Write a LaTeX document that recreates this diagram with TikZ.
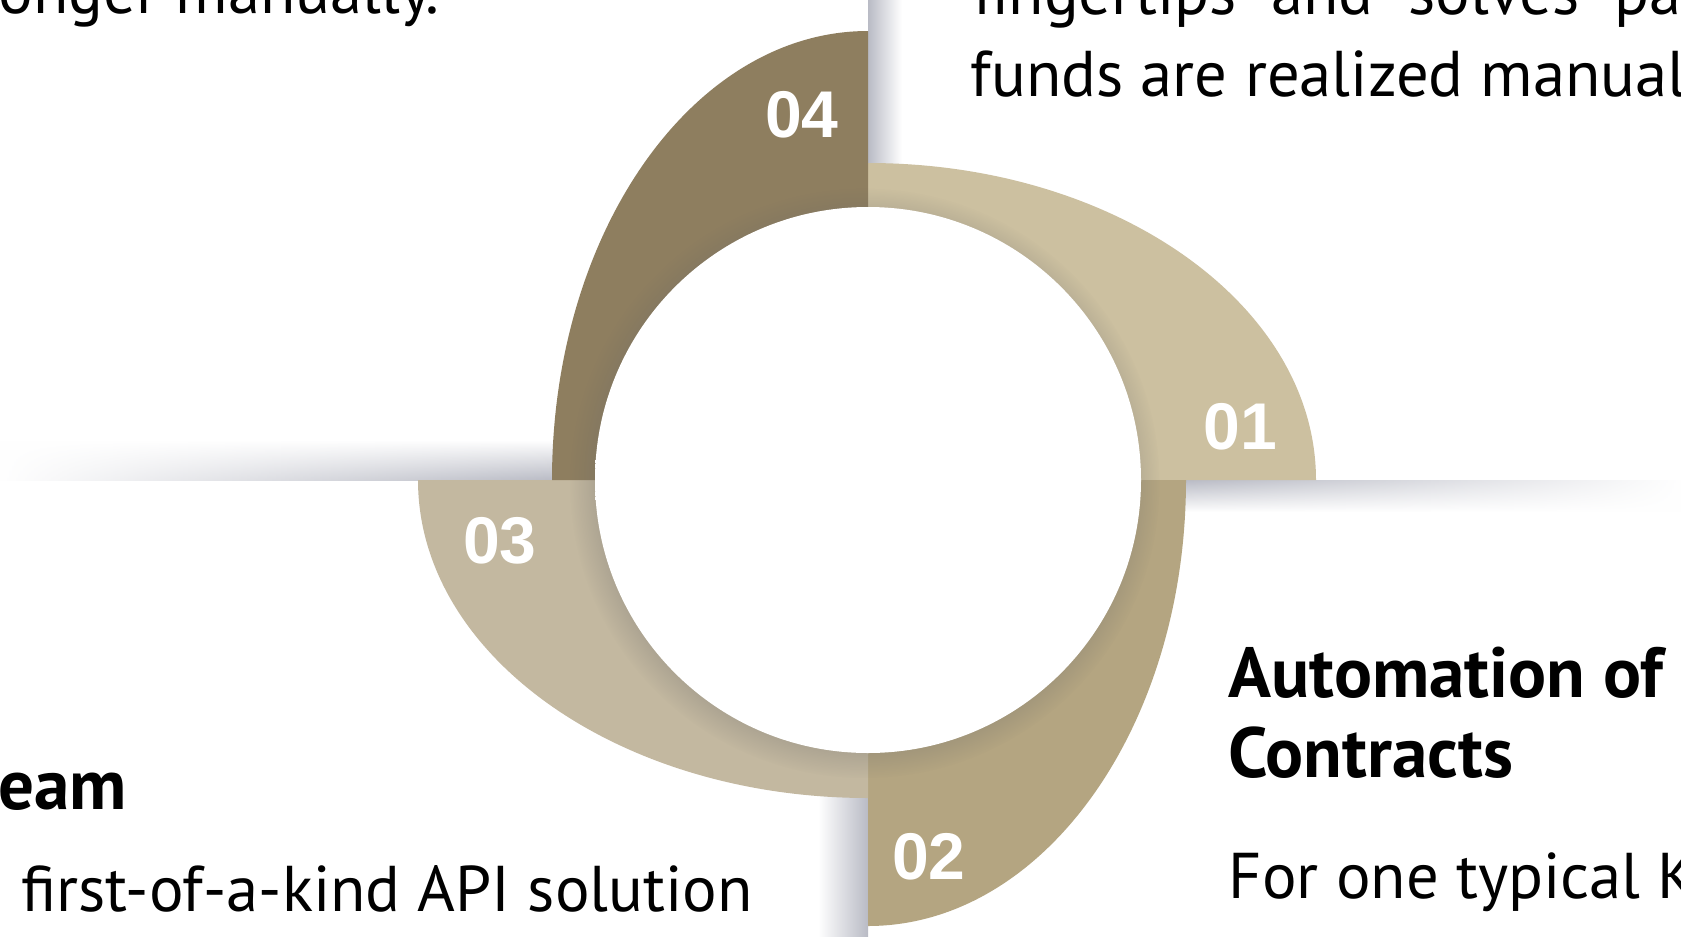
\documentclass[tikz,border=0pt]{standalone}
\usepackage{fontspec}
\setmainfont{PT Sans}
\newfontfamily\numfont{Liberation Sans}
\usetikzlibrary{shadows,fadings}
\definecolor{segone}{HTML}{CCC0A0}
\definecolor{segtwo}{HTML}{B4A581}
\definecolor{segthree}{HTML}{C3B8A0}
\definecolor{segfour}{HTML}{8E7E5F}
\definecolor{bandgray}{HTML}{B9BBC5}
\pgfdeclareradialshading{hubshade}{\pgfpoint{12bp}{12bp}}{%
  color(0bp)=(white); color(34bp)=(white); color(60bp)=(black!9); color(72bp)=(black!14)}
\begin{document}
\begin{tikzpicture}[x=0.1mm,y=0.1mm,
    txt/.style={anchor=base west,inner sep=0pt,font=\fontsize{18.4}{23}\selectfont},
    head/.style={txt,font=\fontsize{20.2}{23}\selectfont\bfseries},
    num/.style={text=white,inner sep=0pt,font=\numfont\bfseries\fontsize{18.8}{18}\selectfont}]
  \useasboundingbox (0,0) rectangle (1681,936);
  \clip (0,0) rectangle (1681,936);
  \fill[white] (0,0) rectangle (1681,936);
  % shadows along the card edges
  \shade[top color=white,bottom color=bandgray,path fading=west] (0,456) rectangle (560,496);
  \shade[top color=bandgray,bottom color=white,path fading=east] (1180,424) rectangle (1681,456);
  \shade[left color=bandgray,right color=white] (868,760) rectangle (902,936);
  \shade[left color=white,right color=bandgray] (818,0) rectangle (868,150);
  % the four segments
  \coordinate (c) at (868,456);
  \fill[segone] (c) -- ++(0,317) arc[start angle=90,end angle=0,x radius=448,y radius=317] -- cycle;
  \fill[segtwo] (c) -- ++(318,0) arc[start angle=0,end angle=-90,x radius=318,y radius=446] -- cycle;
  \fill[segthree] (c) -- ++(-450,0) arc[start angle=180,end angle=270,x radius=450,y radius=318] -- cycle;
  \fill[segfour] (c) -- ++(-316,0) arc[start angle=180,end angle=90,x radius=316,y radius=449] -- cycle;
  % white hub
  \node[circle,inner sep=0pt,minimum size=54.6mm,shading=hubshade,
    circular drop shadow={shadow xshift=-.3mm,shadow yshift=-.3mm,shadow scale=1.08,opacity=.38,fill=black!60}] (hub) at (c) {};
  \node[num] (n01) at (1240,509) {01};
  \node[num] (n02) at (929,79) {02};
  \node[num] (n03) at (500,395) {03};
  \node[num] (n04) at (802,821) {04};
  % texts of the cards
  \node[txt] (tl) at (-2,923) {onger manually.};
  \node[txt] (tr1) at (973,922) {fingertips\ \ and\ \ solves\ \ pa};
  \node[txt] (tr2) at (970,840) {funds are realized manual};
  \node[head] (bl1) at (-2,127) {eam};
  \node[txt] (bl2) at (21,25) {first-of-a-kind API solution};
  \node[head] (br1) at (1228,239) {Automation of};
  \node[head] (br2) at (1228,159) {Contracts};
  \node[txt] (br3) at (1228,38) {For one typical K};
\end{tikzpicture}
\end{document}
